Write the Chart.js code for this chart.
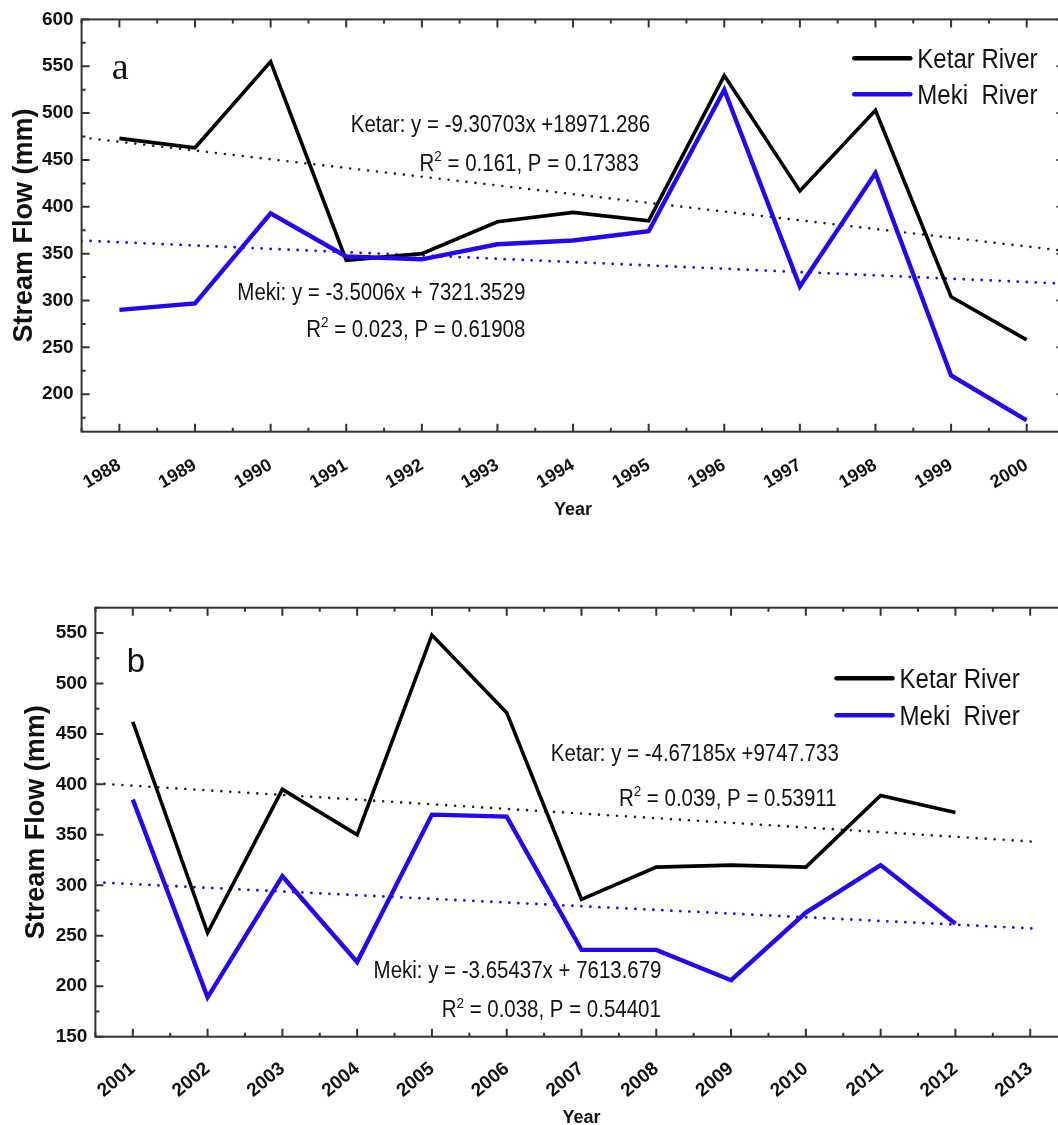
<!DOCTYPE html>
<html>
<head>
<meta charset="utf-8">
<title>Stream Flow - Ketar and Meki</title>
<script src="https://cdn.jsdelivr.net/npm/chart.js@4.4.0/dist/chart.umd.min.js"></script>
<style>
    html, body { margin: 0; padding: 0; background: #fff; overflow: hidden; width: 1058px; height: 1125px; }
    .panel { position: absolute; left: 0; }
    #panel-a { top: 0; }
    #panel-b { top: 570px; }
</style>
</head>
<body>
<div class="panel" id="panel-a"><canvas id="chart-a" width="1075" height="545"></canvas></div>
<div class="panel" id="panel-b"><canvas id="chart-b" width="1075" height="565"></canvas></div>
<script>
// Panel a: 1988 - 2000
const yearsA = [1988, 1989, 1990, 1991, 1992, 1993, 1994, 1995, 1996, 1997, 1998, 1999, 2000];
const ketarA = [473, 463, 555, 343, 350, 384, 394, 385, 540, 417, 503, 304, 258];
const mekiA = [290, 297, 393, 347, 344, 360, 364, 374, 525, 315, 436, 220, 172];
const trendXA = [1987.5, 2000.5];
const ketarTrendA = [474, 353];
const mekiTrendA = [364, 318];
const xTicksA = [1988, 1989, 1990, 1991, 1992, 1993, 1994, 1995, 1996, 1997, 1998, 1999, 2000];
const yTicksA = [200, 250, 300, 350, 400, 450, 500, 550, 600];

// Panel b: 2001 - 2012
const yearsB = [2001, 2002, 2003, 2004, 2005, 2006, 2007, 2008, 2009, 2010, 2011, 2012];
const ketarB = [462, 253, 395, 350, 548, 471, 286, 318, 320, 318, 389, 372];
const mekiB = [385, 189, 309, 224, 370, 368, 236, 236, 206, 273, 320, 262];
const trendXB = [2000.5, 2013.1];
const ketarTrendB = [401, 343];
const mekiTrendB = [303, 257];
const xTicksB = [2001, 2002, 2003, 2004, 2005, 2006, 2007, 2008, 2009, 2010, 2011, 2012, 2013];
const yTicksB = [150, 200, 250, 300, 350, 400, 450, 500, 550];

const SANS = "'Liberation Sans', Arial, Helvetica, sans-serif";
const SERIF = "'Liberation Serif', 'Times New Roman', serif";
const BLACK = '#000000';
const BLUE = '#2208f0';
const INK = '#111111';

function toPoints(xs, ys) {
    return xs.map((x, i) => ({ x: x, y: ys[i] }));
}

// draws a run of text parts (with superscripts), squeezed horizontally
function drawRich(ctx, item) {
    const size = item.size;
    ctx.save();
    ctx.translate(item.px, item.py + size * (item.base ?? 0.36));
    ctx.scale(item.squeeze ?? 0.89, 1);
    ctx.fillStyle = INK;
    ctx.textAlign = 'left';
    ctx.textBaseline = 'alphabetic';
    let cx = 0;
    item.parts.forEach(part => {
        const fs = part.sup ? size * 0.66 : size;
        ctx.font = `${item.weight || 'normal'} ${fs}px ${item.family || SANS}`;
        ctx.fillText(part.t, cx, part.sup ? -size * 0.42 : 0);
        cx += ctx.measureText(part.t).width;
    });
    ctx.restore();
}

// box round the plot with inward major / minor ticks
const framePlugin = {
    id: 'frame',
    afterDatasetsDraw(chart) {
        const { ctx, chartArea: a, scales: { x, y } } = chart;
        ctx.save();
        ctx.strokeStyle = '#333';
        ctx.lineWidth = 2;
        ctx.strokeRect(a.left, a.top, a.right - a.left, a.bottom - a.top);
        ctx.beginPath();
        for (let v = Math.ceil(x.min / 0.5) * 0.5; v <= x.max; v += 0.5) {
            const px = x.getPixelForValue(v);
            const len = v % 1 === 0 ? 8 : 4;
            ctx.moveTo(px, a.bottom); ctx.lineTo(px, a.bottom - len);
            ctx.moveTo(px, a.top); ctx.lineTo(px, a.top + len);
        }
        for (let v = Math.ceil(y.min / 25) * 25; v <= y.max; v += 25) {
            const py = y.getPixelForValue(v);
            const len = v % 50 === 0 ? 8 : 4;
            ctx.moveTo(a.left, py); ctx.lineTo(a.left + len, py);
            ctx.moveTo(a.right, py); ctx.lineTo(a.right - len, py);
        }
        ctx.stroke();
        ctx.restore();
    }
};

// legend lines and the regression texts
const notesPlugin = {
    id: 'notes',
    afterDraw(chart, args, opts) {
        const { ctx, scales: { x, y } } = chart;
        (opts.items || []).forEach(item => {
            drawRich(ctx, Object.assign({}, item, {
                px: x.getPixelForValue(item.x),
                py: y.getPixelForValue(item.y)
            }));
        });

        const lg = opts.legend;
        if (!lg) return;
        const lx = x.getPixelForValue(lg.x);
        let ly = y.getPixelForValue(lg.y);
        chart.data.datasets
            .filter(ds => ds.legendRank)
            .sort((p, q) => p.legendRank - q.legendRank)
            .forEach(ds => {
                ctx.save();
                ctx.strokeStyle = ds.borderColor;
                ctx.lineWidth = 4.5;
                ctx.lineCap = 'round';
                ctx.beginPath();
                ctx.moveTo(lx, ly);
                ctx.lineTo(lx + 56, ly);
                ctx.stroke();
                ctx.restore();
                drawRich(ctx, { px: lx + 63, py: ly, size: 27, parts: [{ t: ds.label }] });
                ly += lg.gap;
            });
    }
};

function buildChart(canvasId, cfg) {
    const ctx = document.getElementById(canvasId).getContext('2d');

    return new Chart(ctx, {
        type: 'line',
        data: {
            datasets: [
                {
                    label: 'Meki  River',
                    legendRank: 2,
                    data: toPoints(cfg.years, cfg.meki),
                    borderColor: BLUE,
                    borderWidth: 4.4,
                    pointRadius: 0,
                    tension: 0
                },
                {
                    label: 'Ketar River',
                    legendRank: 1,
                    data: toPoints(cfg.years, cfg.ketar),
                    borderColor: BLACK,
                    borderWidth: 3.6,
                    pointRadius: 0,
                    tension: 0
                },
                {
                    label: 'Ketar trend',
                    data: toPoints(cfg.trendX, cfg.ketarTrend),
                    borderColor: '#222',
                    borderWidth: 2.6,
                    borderDash: [0.01, 9],
                    borderCapStyle: 'round',
                    pointRadius: 0
                },
                {
                    label: 'Meki trend',
                    data: toPoints(cfg.trendX, cfg.mekiTrend),
                    borderColor: BLUE,
                    borderWidth: 2.8,
                    borderDash: [0.01, 9],
                    borderCapStyle: 'round',
                    pointRadius: 0
                }
            ]
        },
        options: {
            responsive: false,
            animation: false,
            devicePixelRatio: 1,
            events: [],
            layout: { padding: { top: cfg.padTop, right: cfg.padRight, bottom: 0, left: 0 } },
            plugins: {
                legend: { display: false },
                tooltip: { enabled: false },
                notes: { items: cfg.notes, legend: cfg.legend }
            },
            scales: {
                x: {
                    type: 'linear',
                    min: cfg.xMin,
                    max: cfg.xMax,
                    afterBuildTicks: s => { s.ticks = cfg.xTicks.map(v => ({ value: v })); },
                    afterFit: s => { s.height = cfg.xHeight; },
                    grid: { display: false, drawTicks: false },
                    border: { display: false },
                    ticks: {
                        autoSkip: false,
                        minRotation: cfg.rotation,
                        maxRotation: cfg.rotation,
                        padding: cfg.xPad,
                        color: INK,
                        font: { family: SANS, size: cfg.tickSize, weight: 'bold' },
                        callback: v => String(v)
                    },
                    title: {
                        display: true,
                        text: 'Year',
                        color: INK,
                        font: { family: SANS, size: 18, weight: 'bold' },
                        padding: { top: 0, bottom: cfg.yearPad }
                    }
                },
                y: {
                    type: 'linear',
                    min: cfg.yMin,
                    max: cfg.yMax,
                    afterBuildTicks: s => { s.ticks = cfg.yTicks.map(v => ({ value: v })); },
                    afterFit: s => { s.width = cfg.yWidth; },
                    grid: { display: false, drawTicks: false },
                    border: { display: false },
                    ticks: { padding: 8, color: INK, font: { family: SANS, size: 19, weight: 'bold' } },
                    title: {
                        display: true,
                        text: 'Stream Flow (mm)',
                        color: INK,
                        font: { family: SANS, size: 27, weight: 'bold' },
                        padding: { top: cfg.titlePad, bottom: 0 }
                    }
                }
            }
        },
        plugins: [framePlugin, notesPlugin]
    });
}

buildChart('chart-a', {
    years: yearsA, ketar: ketarA, meki: mekiA,
    trendX: trendXA, ketarTrend: ketarTrendA, mekiTrend: mekiTrendA,
    xTicks: xTicksA, yTicks: yTicksA,
    xMin: 1987.5, xMax: 2000.5, yMin: 160, yMax: 600,
    padTop: 18.3, padRight: 10.5, yWidth: 81.6, xHeight: 113.3,
    rotation: 30, tickSize: 18, xPad: 23, yearPad: 24, titlePad: 8,
    legend: { x: 1997.72, y: 558.5, gap: 36 },
    notes: [
        { x: 1987.9, y: 546, size: 38, family: SERIF, squeeze: 1, base: 0.23, parts: [{ t: 'a' }] },
        { x: 1991.06, y: 488.6, size: 23, parts: [{ t: 'Ketar: y = -9.30703x +18971.286' }] },
        { x: 1991.97, y: 447.4, size: 23, parts: [{ t: 'R' }, { t: '2', sup: true }, { t: ' = 0.161, P = 0.17383' }] },
        { x: 1989.56, y: 309.9, size: 23, parts: [{ t: 'Meki: y = -3.5006x + 7321.3529' }] },
        { x: 1990.47, y: 270.2, size: 23, parts: [{ t: 'R' }, { t: '2', sup: true }, { t: ' = 0.023, P = 0.61908' }] }
    ]
});

buildChart('chart-b', {
    years: yearsB, ketar: ketarB, meki: mekiB,
    trendX: trendXB, ketarTrend: ketarTrendB, mekiTrend: mekiTrendB,
    xTicks: xTicksB, yTicks: yTicksB,
    xMin: 2000.5, xMax: 2013.5, yMin: 150, yMax: 575,
    padTop: 37.7, padRight: 7.4, yWidth: 95.4, xHeight: 98.3,
    rotation: 40, tickSize: 19, xPad: 21, yearPad: 6, titlePad: 20,
    legend: { x: 2010.41, y: 505.2, gap: 37 },
    notes: [
        { x: 2000.92, y: 523.3, size: 33, squeeze: 1, parts: [{ t: 'b' }] },
        { x: 2006.59, y: 431.7, size: 23, parts: [{ t: 'Ketar: y = -4.67185x +9747.733' }] },
        { x: 2007.5, y: 386.7, size: 23, parts: [{ t: 'R' }, { t: '2', sup: true }, { t: ' = 0.039, P = 0.53911' }] },
        { x: 2004.22, y: 216.3, size: 23, parts: [{ t: 'Meki: y = -3.65437x + 7613.679' }] },
        { x: 2005.13, y: 177.5, size: 23, parts: [{ t: 'R' }, { t: '2', sup: true }, { t: ' = 0.038, P = 0.54401' }] }
    ]
});
</script>
</body>
</html>
